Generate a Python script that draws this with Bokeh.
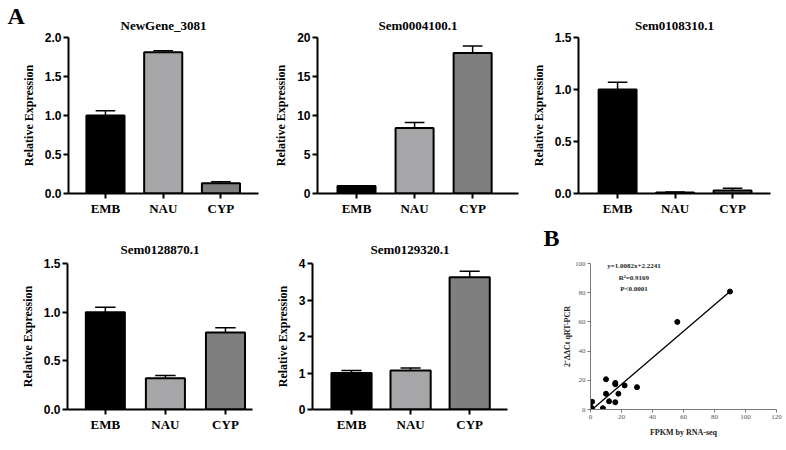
import math
from bokeh.plotting import figure
from bokeh.models import Range1d, FixedTicker, Label, ColumnDataSource, NumeralTickFormatter, Title
from bokeh.layouts import row, column
from bokeh.embed import file_html
from bokeh.resources import INLINE

# ---------------- data ----------------
categories = ["EMB", "NAU", "CYP"]
bar_colors = ["#000000", "#a6a6a8", "#7f7f7f"]

gene_titles = ["NewGene_3081", "Sem0004100.1", "Sem0108310.1", "Sem0128870.1", "Sem0129320.1"]

newgene_3081_mean = [1.00, 1.81, 0.13]
newgene_3081_err = [0.06, 0.02, 0.02]
sem0004100_mean = [0.95, 8.4, 18.0]
sem0004100_err = [0.05, 0.7, 0.9]
sem0108310_mean = [1.00, 0.01, 0.03]
sem0108310_err = [0.07, 0.005, 0.02]
sem0128870_mean = [1.00, 0.32, 0.79]
sem0128870_err = [0.05, 0.03, 0.05]
sem0129320_mean = [1.00, 1.07, 3.62]
sem0129320_err = [0.07, 0.07, 0.17]

yticks_3081 = [0, 0.5, 1.0, 1.5, 2.0]
yticks_4100 = [0, 5, 10, 15, 20]
yticks_8310 = [0, 0.5, 1.0, 1.5]
yticks_8870 = [0, 0.5, 1.0, 1.5]
yticks_9320 = [0, 1, 2, 3, 4]

# correlation panel (B)
fpkm_rnaseq = [0, 0.5, 1, 1, 8, 10, 10, 12, 16, 16, 16, 18, 22, 30, 56, 90]
qpcr_fold = [2.0, 0.3, 0.6, 5.3, 0.9, 20.7, 10.8, 5.6, 18.2, 17.3, 5.0, 10.8, 16.5, 15.3, 60.0, 80.8]
fit_x = [1, 90]
fit_y = [0, 80.8]
b_xticks = [0, 20, 40, 60, 80, 100, 120]
b_yticks = [0, 20, 40, 60, 80, 100]

SERIF = "Liberation Serif"
SANS = "Liberation Sans"


def bar_panel(title, means, errs, yticks, fmt, width, height, left, right, top, bottom,
              xstart, xend, bar_w, title_standoff):
    ymax = yticks[-1]
    p = figure(width=width, height=height, x_range=Range1d(xstart, xend),
               y_range=Range1d(0, ymax), output_backend="svg", toolbar_location=None,
               min_border_left=left, min_border_right=right, min_border_top=top,
               min_border_bottom=bottom, title=None)
    xs = list(range(len(categories)))
    err_top = [m + e for m, e in zip(means, errs)]
    src = ColumnDataSource(dict(x=xs, top=means, color=bar_colors, err_top=err_top,
                                cl=[x - 0.17 for x in xs], cr=[x + 0.17 for x in xs]))
    p.vbar(x="x", top="top", bottom=0, width=bar_w, fill_color="color",
           line_color="black", line_width=2, source=src)
    p.segment(x0="x", y0="top", x1="x", y1="err_top", line_color="black",
              line_width=1.5, source=src)
    p.segment(x0="cl", y0="err_top", x1="cr", y1="err_top", line_color="black",
              line_width=1.5, source=src)

    p.xgrid.visible = False
    p.ygrid.visible = False
    p.outline_line_color = None

    xa = p.xaxis[0]
    xa.ticker = FixedTicker(ticks=xs)
    xa.major_label_overrides = {i: c for i, c in enumerate(categories)}
    xa.major_label_text_font = SERIF
    xa.major_label_text_font_style = "bold"
    xa.major_label_text_font_size = "13px"
    xa.major_label_text_color = "black"
    xa.major_label_standoff = 2
    xa.axis_line_width = 2
    xa.axis_line_color = "black"
    xa.major_tick_line_width = 2
    xa.major_tick_out = 5
    xa.major_tick_in = 0
    xa.minor_tick_out = 0
    xa.minor_tick_in = 0

    ya = p.yaxis[0]
    ya.ticker = FixedTicker(ticks=yticks)
    ya.formatter = NumeralTickFormatter(format=fmt)
    ya.major_label_text_font = SANS
    ya.major_label_text_font_style = "bold"
    ya.major_label_text_font_size = "12px"
    ya.major_label_text_color = "black"
    ya.major_label_standoff = 2
    ya.axis_line_width = 2
    ya.axis_line_color = "black"
    ya.major_tick_line_width = 2
    ya.major_tick_out = 5
    ya.major_tick_in = 0
    ya.minor_tick_out = 0
    ya.minor_tick_in = 0
    ya.axis_label = "Relative Expression"
    ya.axis_label_text_font = SERIF
    ya.axis_label_text_font_style = "bold"
    ya.axis_label_text_font_size = "12px"
    ya.axis_label_text_color = "black"
    ya.axis_label_standoff = 6

    p.add_layout(Title(text=title, align="center", text_font=SERIF,
                       text_font_style="bold", text_font_size="13px",
                       text_color="black", standoff=title_standoff), "above")
    return p


p1 = bar_panel(gene_titles[0], newgene_3081_mean, newgene_3081_err, yticks_3081, "0.0",
               262, 220, 68, 4, 36, 27, -0.64, 2.65, 0.66, 10)
p1.add_layout(Title(text="A", align="left", offset=-61, standoff=-37,
                    text_font=SERIF, text_font_style="bold", text_font_size="24px",
                    text_color="black"), "above")
p2 = bar_panel(gene_titles[1], sem0004100_mean, sem0004100_err, yticks_4100, "0",
               263, 220, 55, 7, 36, 25, -0.672, 2.79, 0.655, 10)
p3 = bar_panel(gene_titles[2], sem0108310_mean, sem0108310_err, yticks_8310, "0.0",
               261, 220, 53, 16, 37, 27, -0.68, 2.66, 0.66, 10)
p4 = bar_panel(gene_titles[3], sem0128870_mean, sem0128870_err, yticks_8870, "0.0",
               262, 230, 67, 10, 42, 32, -0.63, 2.45, 0.65, 14)
p5 = bar_panel(gene_titles[4], sem0129320_mean, sem0129320_err, yticks_9320, "0",
               263, 230, 50, 18, 43, 25, -0.66, 2.64, 0.68, 14)

# ---------------- panel B ----------------
p6 = figure(width=261, height=230, x_range=Range1d(0, 120), y_range=Range1d(0, 100),
            output_backend="svg", toolbar_location=None, min_border_left=65,
            min_border_right=10, min_border_top=40, min_border_bottom=41, title=None)
p6.xgrid.visible = False
p6.ygrid.visible = False
p6.outline_line_color = None
p6.line(fit_x, fit_y, line_color="black", line_width=1.3)
p6.scatter(fpkm_rnaseq, qpcr_fold, size=5, marker="circle", fill_color="black",
           line_color="black")
for ax, ticks in ((p6.xaxis[0], b_xticks), (p6.yaxis[0], b_yticks)):
    ax.ticker = FixedTicker(ticks=ticks)
    ax.axis_line_color = "#7a7a7a"
    ax.axis_line_width = 1
    ax.major_tick_line_color = "#7a7a7a"
    ax.major_tick_out = 3
    ax.major_tick_in = 0
    ax.minor_tick_out = 0
    ax.minor_tick_in = 0
    ax.major_label_text_font = SERIF
    ax.major_label_text_font_size = "7px"
    ax.major_label_text_color = "#555555"
    ax.major_label_standoff = 2
    ax.axis_label_text_font = SERIF
    ax.axis_label_text_font_style = "bold"
    ax.axis_label_text_font_size = "8px"
    ax.axis_label_text_color = "#222222"
p6.xaxis[0].axis_label = "FPKM by RNA-seq"
p6.xaxis[0].axis_label_standoff = 6
p6.yaxis[0].axis_label = "2⁻ΔΔCt qRT-PCR"
p6.yaxis[0].axis_label_standoff = 0

eq_font = dict(text_font=SERIF, text_font_style="bold", text_font_size="7px",
               text_color="#222222", text_align="center", text_baseline="middle")
p6.add_layout(Label(x=28, y=98.4, text="y=1.0082x+2.2241", **eq_font))
p6.add_layout(Label(x=28, y=90.0, text="R²=0.9169", **eq_font))
p6.add_layout(Label(x=28, y=82.4, text="P<0.0001", **eq_font))
# spacer title (blank) so that the panel letter sits higher above the frame
p6.add_layout(Title(text=" ", text_font_size="1px", standoff=13), "above")
p6.add_layout(Title(text="B", align="left", offset=-47, standoff=-6,
                    text_font=SERIF, text_font_style="bold", text_font_size="24px",
                    text_color="black"), "above")

layout = column(row(p1, p2, p3), row(p4, p5, p6))
open("out.html", "w").write(file_html(layout, INLINE))
